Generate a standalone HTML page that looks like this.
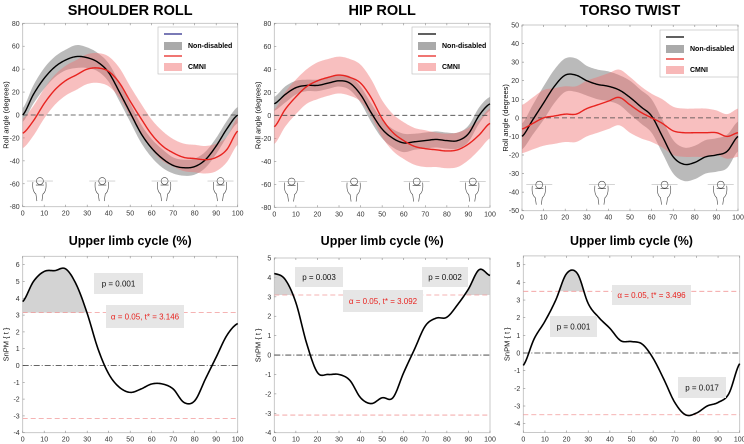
<!DOCTYPE html>
<html><head><meta charset="utf-8"><style>
html,body{margin:0;padding:0;background:#fff;}
svg{display:block;font-family:"Liberation Sans",Arial,sans-serif;}
</style></head><body>
<svg id="fig" width="744" height="444" viewBox="0 0 744 444" xmlns="http://www.w3.org/2000/svg"></svg>
<script>
// ---------- data (x = 0..100 step 5) ----------
const xs = [0,5,10,15,20,25,30,35,40,45,50,55,60,65,70,75,80,85,90,95,100];
const shoulderND = [0,18,32,42,48,51,50,46,37,20,2,-16,-29,-38,-44,-46,-45,-39,-27,-12,0];
const shoulderNDsd = [6,8,9,9,9,10,9,8,8,8,8,8,8,8,7,7,7,7,7,7,7];
const shoulderCM = [-16,-5,10,22,30,35,40,41,38,28,12,-3,-17,-27,-33,-37,-38,-39,-37,-30,-14];
const shoulderCMsd = [13,13,13,13,13,13,13,13,13,13,13,13,13,13,12,12,12,12,12,11,12];
const hipND = [10,18,24,26,26,28,30,28,18,2,-12,-20,-24,-23,-22,-21,-22,-22,-16,0,10];
const hipNDsd = [6,7,6,5,5,5,5,6,7,8,8,8,8,7,7,7,7,7,7,7,6];
const hipCM = [-10,5,16,25,30,33,35,33,28,15,-3,-15,-22,-27,-29,-30,-31,-30,-25,-17,-7];
const hipCMsd = [15,15,15,15,16,16,16,16,16,16,16,16,16,16,16,15,15,15,14,13,13];
const torsoND = [-10,-1,8,17,23,23,20,18,17,15,11,6,1,-10,-21,-25,-24,-21,-20,-18,-10];
const torsoNDsd = [7,8,9,9,9,9,8,8,8,8,9,9,9,9,9,9,9,9,9,9,8];
const torsoCM = [-6,-3,0,1,2,2,5,7,9,11,7,3,0,-3,-7,-8,-8,-8,-8,-10,-8];
const torsoCMsd = [13,14,15,15,15,15,15,15,15,15,15,14,13,13,13,13,13,13,12,12,13];
const spmShoulder = [3.8,5.0,5.6,5.65,5.75,4.8,3.1,1.0,-0.5,-1.3,-1.6,-1.4,-1.1,-1.1,-1.4,-2.2,-2.1,-0.8,0.5,1.8,2.5];
const spmHip = [4.2,3.9,2.7,0.6,-0.9,-1.0,-1.0,-1.3,-2.2,-2.5,-2.2,-2.2,-0.9,0.3,1.5,1.9,1.95,2.6,3.4,4.4,4.1];
const spmTorso = [-0.7,0.8,1.8,3.0,4.5,4.5,2.8,2.0,1.4,0.7,0.65,0.5,-0.3,-1.5,-2.8,-3.5,-3.4,-3.0,-2.8,-2.3,-0.6];
const thresholds = [3.146,3.092,3.496];
const pLabels = [["p = 0.001"],["p = 0.003","p = 0.002"],["p = 0.001","p = 0.017"]];
const titles = ["SHOULDER ROLL","HIP ROLL","TORSO TWIST"];
const topTicks = [[80,60,40,20,0,-20,-40,-60,-80],[80,60,40,20,0,-20,-40,-60,-80],[50,40,30,20,10,0,-10,-20,-30,-40,-50]];
const botTicks = [[6,5,4,3,2,1,0,-1,-2,-3,-4],[5,4,3,2,1,0,-1,-2,-3,-4],[5,4,3,2,1,0,-1,-2,-3,-4]];
const xTicks = [0,10,20,30,40,50,60,70,80,90,100];

const NS="http://www.w3.org/2000/svg";
const svg=document.getElementById('fig');
function mk(tag,attrs,parent){const e=document.createElementNS(NS,tag);for(const k in attrs)e.setAttribute(k,attrs[k]);(parent||svg).appendChild(e);return e;}
function dense(vals){ // catmull-rom
  const out=[];const n=vals.length;
  for(let i=0;i<n-1;i++){const p0=vals[Math.max(0,i-1)],p1=vals[i],p2=vals[i+1],p3=vals[Math.min(n-1,i+2)];
    for(let s=0;s<10;s++){const t=s/10;const v=0.5*((2*p1)+(-p0+p2)*t+(2*p0-5*p1+4*p2-p3)*t*t+(-p0+3*p1-3*p2+p3)*t*t*t);
      out.push([xs[i]+(xs[i+1]-xs[i])*t,v]);}}
  out.push([xs[n-1],vals[n-1]]);return out;}
function pathOf(pts,sx,sy){return pts.map((p,i)=>(i?'L':'M')+sx(p[0]).toFixed(2)+','+sy(p[1]).toFixed(2)).join('');}

const tops=[{x0:22.7,x1:237.7,y0:23.3,y1:206.7,ymax:80,ymin:-80,nd:shoulderND,nds:shoulderNDsd,cm:shoulderCM,cms:shoulderCMsd,leg:[158,27]},
 {x0:274.3,x1:490,y0:23.3,y1:207.3,ymax:80,ymin:-80,nd:hipND,nds:hipNDsd,cm:hipCM,cms:hipCMsd,leg:[412,27]},
 {x0:522,x1:738,y0:25,y1:210.7,ymax:50,ymin:-50,nd:torsoND,nds:torsoNDsd,cm:torsoCM,cms:torsoCMsd,leg:[660,30]}];
const bots=[{x0:22.7,x1:237.7,y0:256.3,y1:432.7,ymax:6.5,ymin:-4,v:spmShoulder},
 {x0:274.3,x1:490,y0:258,y1:432.7,ymax:5,ymin:-4,v:spmHip},
 {x0:523.3,x1:739.7,y0:255.9,y1:432.5,ymax:5.5,ymin:-4.5,v:spmTorso}];
const boxes=[[[94,273,49,21]],[[295,267,48,20],[422,267,46,20]],[[550,316,47,21],[678,377,48,21]]];
const aboxes=[[106,305,78,23],[343,290,80,22],[612,285,79,20]];

function axes(P,ticks,g,ylabel){
  const sx=x=>P.x0+(x/100)*(P.x1-P.x0), sy=y=>P.y0+(P.ymax-y)/(P.ymax-P.ymin)*(P.y1-P.y0);
  mk('rect',{x:P.x0,y:P.y0,width:P.x1-P.x0,height:P.y1-P.y0,fill:'none',stroke:'#bbb','stroke-width':0.8,},g);
  ticks.forEach(t=>{const y=sy(t);mk('line',{x1:P.x0,x2:P.x0+2,y1:y,y2:y,stroke:'#888','stroke-width':0.6},g);
    const tx=mk('text',{x:P.x0-3,y:y+2.5,'font-size':7,'text-anchor':'end',fill:'#333',},g);tx.textContent=t;});
  xTicks.forEach(t=>{const x=sx(t);mk('line',{x1:x,x2:x,y1:P.y1,y2:P.y1-2,stroke:'#888','stroke-width':0.6},g);mk('line',{x1:x,x2:x,y1:P.y0,y2:P.y0+2,stroke:'#888','stroke-width':0.6},g);
    const tx=mk('text',{x:x,y:P.y1+9,'font-size':7,'text-anchor':'middle',fill:'#333',},g);tx.textContent=t;});
  const yl=mk('text',{x:0,y:0,'font-size':7.5,'text-anchor':'middle',fill:'#111',transform:`translate(${P.x0-14},${(P.y0+P.y1)/2}) rotate(-90)`,},g);yl.textContent=ylabel;
  return [sx,sy];
}

tops.forEach((P,i)=>{
  const g=mk('g',{});
  const t=mk('text',{x:(P.x0+P.x1)/2,y:15,'font-size':14.5,'font-weight':'bold','text-anchor':'middle',fill:'#000',},g);t.textContent=titles[i];
  const [sx,sy]=axes(P,topTicks[i],g,'Roll angle (degrees)');
  const band=(m,s,fill,op,name)=>{const up=dense(m.map((v,k)=>v+s[k])),lo=dense(m.map((v,k)=>v-s[k])).reverse();
    mk('path',{d:pathOf(up.concat(lo),sx,sy)+'Z',fill:fill,'fill-opacity':op,stroke:'none',},g);};
  band(P.nd,P.nds,'#8c8c8c',0.6,'non-disabled-band');
  band(P.cm,P.cms,'#f07070',0.45,'cmni-band');
  mk('line',{x1:P.x0,x2:P.x1,y1:sy(0),y2:sy(0),stroke:'#444','stroke-width':0.8,'stroke-dasharray':'5,3',},g);
  mk('path',{d:pathOf(dense(P.nd),sx,sy),fill:'none',stroke:'#000','stroke-width':1.4,},g);
  mk('path',{d:pathOf(dense(P.cm),sx,sy),fill:'none',stroke:'#e8231f','stroke-width':1.4,},g);
  // athlete icons
  [8,37,66,92].forEach(px=>{const cx=sx(px),cy=P.y1-(P.y1-P.y0)*0.14;
    const fg=mk('g',{},g);
    mk('line',{x1:cx-13,x2:cx+13,y1:cy,y2:cy,stroke:'#aaa','stroke-width':0.5},fg);
    mk('circle',{cx:cx,cy:cy,r:3.5,fill:'none',stroke:'#444','stroke-width':0.6},fg);
    mk('path',{d:`M${cx-7},${cy+1} Q${cx-8},${cy+10} ${cx-4},${cy+13} L${cx-3},${cy+20} M${cx+6},${cy+1} Q${cx+7},${cy+10} ${cx+3},${cy+13} L${cx+2},${cy+20} M${cx-4},${cy+4} L${cx+4},${cy+4}`,fill:'none',stroke:'#444','stroke-width':0.6},fg);});
  // legend
  const [lx,ly]=P.leg;const lg=mk('g',{},g);
  mk('rect',{x:lx,y:ly,width:P.x1-lx,height:47,fill:'#fff',stroke:'#bbb','stroke-width':0.6},lg);
  mk('line',{x1:lx+6,x2:lx+24,y1:ly+7,y2:ly+7,stroke:i==0?'#2a2a8a':'#000','stroke-width':1.2,},lg);
  mk('rect',{x:lx+6,y:ly+15,width:18,height:8,fill:'#aaa',},lg);
  mk('line',{x1:lx+6,x2:lx+24,y1:ly+29,y2:ly+29,stroke:'#e8231f','stroke-width':1.2,},lg);
  mk('rect',{x:lx+6,y:ly+36,width:18,height:8,fill:'#f8b8b8',},lg);
  let tt=mk('text',{x:lx+30,y:ly+21,'font-size':7,'font-weight':'bold',fill:'#000',},lg);tt.textContent='Non-disabled';
  tt=mk('text',{x:lx+30,y:ly+42,'font-size':7,'font-weight':'bold',fill:'#000',},lg);tt.textContent='CMNI';
});

bots.forEach((P,i)=>{
  const g=mk('g',{});
  const t=mk('text',{x:(P.x0+P.x1)/2,y:245,'font-size':12.5,'font-weight':'bold','text-anchor':'middle',fill:'#000',},g);t.textContent='Upper limb cycle (%)';
  const [sx,sy]=axes(P,botTicks[i],g,'SnPM { t }');
  const thr=thresholds[i];const pts=dense(P.v);
  const up=pts.map(p=>[p[0],Math.max(p[1],thr)]);
  mk('path',{d:pathOf(up.concat([[100,thr],[0,thr]]),sx,sy)+'Z',fill:'#c8c8c8','fill-opacity':0.8,stroke:'none',},g);
  const lo=pts.map(p=>[p[0],Math.min(p[1],-thr)]);
  mk('path',{d:pathOf(lo.concat([[100,-thr],[0,-thr]]),sx,sy)+'Z',fill:'#c8c8c8','fill-opacity':0.8,stroke:'none',},g);
  [thr,-thr].forEach(v=>mk('line',{x1:P.x0,x2:P.x1,y1:sy(v),y2:sy(v),stroke:'#f29a9a','stroke-width':0.8,'stroke-dasharray':'5,3',},g));
  mk('line',{x1:P.x0,x2:P.x1,y1:sy(0),y2:sy(0),stroke:'#333','stroke-width':0.8,'stroke-dasharray':'6,2,1,2',},g);
  mk('path',{d:pathOf(pts,sx,sy),fill:'none',stroke:'#000','stroke-width':1.6,},g);
  boxes[i].forEach((b,k)=>{mk('rect',{x:b[0],y:b[1],width:b[2],height:b[3],fill:'#e6e6e6',},g);
    const tx=mk('text',{x:b[0]+b[2]/2,y:b[1]+b[3]/2+3,'font-size':8,'text-anchor':'middle',fill:'#111',},g);tx.textContent=pLabels[i][k];});
  const a=aboxes[i];mk('rect',{x:a[0],y:a[1],width:a[2],height:a[3],fill:'#e6e6e6',},g);
  const at=mk('text',{x:a[0]+a[2]/2,y:a[1]+a[3]/2+3,'font-size':8,'text-anchor':'middle',fill:'#e8231f',},g);
  at.textContent='α = 0.05,  t* = '+thr.toFixed(3);
});
</script>
</body></html>
